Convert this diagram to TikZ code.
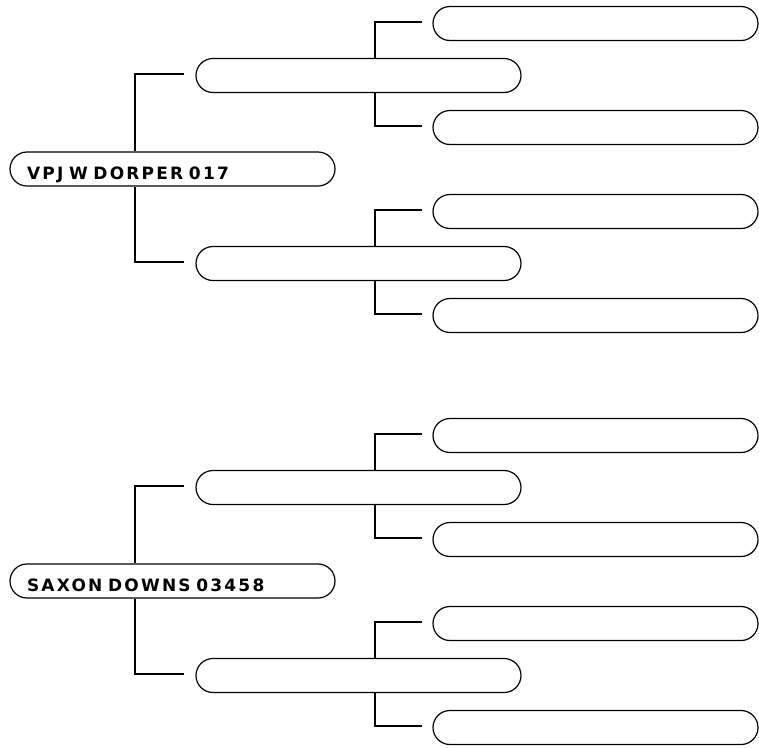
\documentclass[tikz,border=0pt]{standalone}
\usepackage{fontspec}
\newfontfamily\pedfont[LetterSpace=13]{DejaVu Sans}
\usetikzlibrary{calc}

\begin{document}
\begin{tikzpicture}[
  x=1pt, y=-1pt,
  pbox/.style={draw, fill=white, line width=1.2pt, rounded corners=17pt,
               minimum width=325pt, minimum height=34pt, inner sep=0pt},
  rootbox/.style={pbox, text width=291pt, align=left, inner xsep=17pt,
                  font={\fontsize{17pt}{19pt}\selectfont\pedfont\bfseries},
                  text height=24pt, text depth=3pt},
  link/.style={line width=1.2pt}
]
  \useasboundingbox (0,0) rectangle (759,747);
  % two pedigrees, one below the other
  \foreach \g/\dy/\txt in {a/0/{VPJ W DORPER 017}, b/412/{SAXON DOWNS 03458}} {
    \begin{scope}[shift={(0,\dy)}]
      \node[rootbox] (root\g) at (172.5,169) {\txt};
      \node[pbox] (par\g1) at (358.5,75.5) {};
      \node[pbox] (par\g2) at (358.5,263.5) {};
      \node[pbox] (gp\g1) at (595.5,23.5) {};
      \node[pbox] (gp\g2) at (595.5,127.5) {};
      \node[pbox] (gp\g3) at (595.5,211.5) {};
      \node[pbox] (gp\g4) at (595.5,315.5) {};
      % sire / dam lines
      \draw[link] ([xshift=-37.5pt]root\g.north) |- ([xshift=-11pt,yshift=1.5pt]par\g1.west);
      \draw[link] ([xshift=-37.5pt]root\g.south) |- ([xshift=-11pt,yshift=1.5pt]par\g2.west);
      \draw[link] ([xshift=16.5pt]par\g1.north) |- ([xshift=-10pt,yshift=1.5pt]gp\g1.west);
      \draw[link] ([xshift=16.5pt]par\g1.south) |- ([xshift=-10pt,yshift=1.5pt]gp\g2.west);
      \draw[link] ([xshift=16.5pt]par\g2.north) |- ([xshift=-10pt,yshift=1.5pt]gp\g3.west);
      \draw[link] ([xshift=16.5pt]par\g2.south) |- ([xshift=-10pt,yshift=1.5pt]gp\g4.west);
    \end{scope}
  }
\end{tikzpicture}
\end{document}
